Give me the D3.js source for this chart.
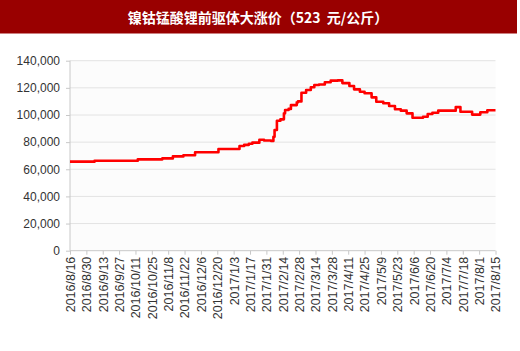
<!DOCTYPE html>
<html><head><meta charset="utf-8">
<script src="https://cdn.jsdelivr.net/npm/d3@7"></script>
<style>
html,body{margin:0;padding:0;background:#fff;}
svg{display:block;}
</style></head>
<body>
<svg id="chart" width="520" height="351"></svg>
<script>
const title = "镍钴锰酸锂前驱体大涨价（523\u00a0\u00a0元/公斤）";
const dates = ["2016-08-16","2016-09-04","2016-09-06","2016-10-11","2016-10-13","2016-11-01","2016-11-03","2016-11-09","2016-11-12","2016-11-18","2016-11-21","2016-11-27","2016-12-01","2016-12-16","2016-12-21","2017-01-05","2017-01-08","2017-01-12","2017-01-16","2017-01-19","2017-01-25","2017-01-29","2017-02-04","2017-02-06","2017-02-07","2017-02-09","2017-02-12","2017-02-15","2017-02-16","2017-02-19","2017-02-21","2017-02-26","2017-02-27","2017-03-02","2017-03-06","2017-03-10","2017-03-13","2017-03-17","2017-03-22","2017-03-27","2017-04-02","2017-04-05","2017-04-06","2017-04-12","2017-04-16","2017-04-21","2017-04-25","2017-05-01","2017-05-05","2017-05-11","2017-05-16","2017-05-21","2017-05-26","2017-05-31","2017-06-05","2017-06-11","2017-06-14","2017-06-18","2017-06-22","2017-06-27","2017-07-09","2017-07-12","2017-07-16","2017-07-23","2017-07-26","2017-08-01","2017-08-02","2017-08-08","2017-08-15"];
const values = [65600,65600,66300,66300,67300,67300,68000,68000,69500,69500,70300,70300,72500,72500,74900,74900,77100,78000,78800,79600,81800,81200,80800,84000,88900,95800,96800,101200,103700,104500,107300,109300,110000,116400,118400,120400,122100,122500,124100,125300,125500,125500,123500,121400,118900,117100,116000,113000,109800,108600,106600,104200,103200,101200,98000,98000,98700,100700,101700,103200,103200,105800,102400,102400,100300,100300,102000,103500,103500];
const tickDates = ["2016/8/16","2016/8/30","2016/9/13","2016/9/27","2016/10/11","2016/10/25","2016/11/8","2016/11/22","2016/12/6","2016/12/20","2017/1/3","2017/1/17","2017/1/31","2017/2/14","2017/2/28","2017/3/14","2017/3/28","2017/4/11","2017/4/25","2017/5/9","2017/5/23","2017/6/6","2017/6/20","2017/7/4","2017/7/18","2017/8/1","2017/8/15"];
const yTicks = [0,20000,40000,60000,80000,100000,120000,140000];

const svg = d3.select("#chart");
const W = 520, H = 351;
const m = {left:70, right:24.5, top:60.7, bottom:100.3};
const parse = d3.timeParse("%Y-%m-%d");
const parseTick = d3.timeParse("%Y/%m/%d");
const data = dates.map((d,i)=>({date:parse(d), value:values[i]}));

// title bar
svg.append("rect").attr("x",0).attr("y",0).attr("width",517).attr("height",33.5).attr("fill","#990000");
svg.append("text").attr("x",258).attr("y",17).attr("text-anchor","middle").attr("dominant-baseline","central")
  .attr("fill","#fff").attr("font-family","'Noto Sans CJK SC'").attr("font-weight","bold").attr("font-size",14)
  .text(title);

const x = d3.scaleTime().domain([parse("2016-08-16"), parse("2017-08-15")]).range([m.left, W-m.right]);
const y = d3.scaleLinear().domain([0,140000]).range([H-m.bottom, m.top]);

// plot bg
svg.append("rect").attr("x",m.left).attr("y",m.top).attr("width",W-m.right-m.left).attr("height",H-m.bottom-m.top).attr("fill","#fcfcfc");

// grid
svg.append("g").selectAll("line").data(yTicks.filter(d=>d>0)).join("line")
  .attr("x1",m.left).attr("x2",W-m.right).attr("y1",d=>y(d)).attr("y2",d=>y(d))
  .attr("stroke","#e3e3e3").attr("stroke-width",1);

// y axis
const ya = svg.append("g").attr("transform",`translate(${m.left},0)`)
  .call(d3.axisLeft(y).tickValues(yTicks).tickFormat(d3.format(",")).tickSize(4).tickPadding(6));
ya.select(".domain").attr("stroke","#c8c8c8").attr("d",`M-0,${y(140000)}V${y(0)}`);
ya.selectAll(".tick line").attr("stroke","#c8c8c8");
ya.selectAll("text").attr("font-family","Arial, 'Liberation Sans'").attr("font-size",12).attr("fill","#333");

// x axis
const xa = svg.append("g").attr("transform",`translate(0,${y(0)})`)
  .call(d3.axisBottom(x).tickValues(tickDates.map(parseTick)).tickFormat((d,i)=>tickDates[i]).tickSize(4).tickPadding(4));
xa.select(".domain").attr("stroke","#c8c8c8").attr("d",`M${m.left},0H${W-m.right}`);
xa.selectAll(".tick line").attr("stroke","#c8c8c8");
xa.selectAll("text").attr("font-family","Arial, 'Liberation Sans'").attr("font-size",12.5).attr("fill","#333")
  .attr("text-anchor","end").attr("transform","rotate(-90)").attr("x",-6).attr("y",0).attr("dy","0.35em");

// line
const line = d3.line().x(d=>x(d.date)).y(d=>y(d.value)).curve(d3.curveStepAfter);
svg.append("path").datum(data).attr("d",line).attr("fill","none").attr("stroke","#ff0000")
  .attr("stroke-width",2.6).attr("stroke-linejoin","round");
</script>
</body></html>
